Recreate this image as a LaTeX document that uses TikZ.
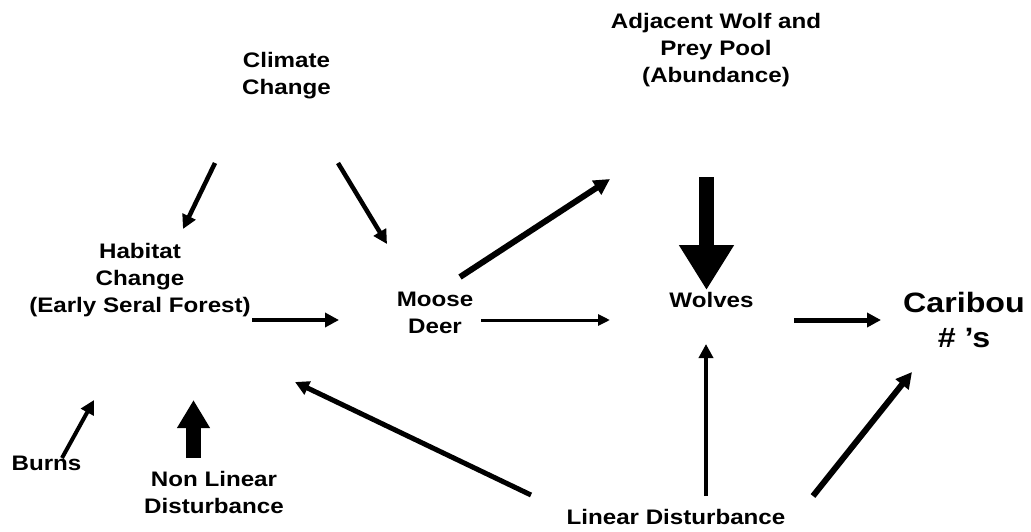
\documentclass[tikz,border=0pt]{standalone}
\usepackage{fontspec}
\setmainfont{Liberation Sans}[FakeStretch=1.15]
\usetikzlibrary{arrows.meta}
\begin{document}
\begin{tikzpicture}[x=1pt,y=-1pt,
  lab/.style={font=\bfseries\fontsize{21}{27}\selectfont,align=center,anchor=base,inner sep=0pt},
  biglab/.style={font=\bfseries\fontsize{28}{35}\selectfont,align=center,anchor=base,inner sep=0pt},
  arr/.style={line width=#1,-{Triangle[length=14pt,width=14pt]}},
  arr/.default=4.5pt,
  block/.style={line width=15pt,-{Triangle[length=#1]}}]
\useasboundingbox (0,0) rectangle (1031,531);
% labels (anchor = baseline of last line)
\node[lab] (clim) at (286.5,94) {Climate\\Change};
\node[lab] (adj) at (716,82) {Adjacent Wolf and\\Prey Pool\\(Abundance)};
\node[lab] (hab) at (140,312) {Habitat\\Change\\(Early Seral Forest)};
\node[lab] (moose) at (435,333) {Moose\\Deer};
\node[lab] (wolves) at (711.5,307) {Wolves};
\node[biglab] (cari) at (964,347) {Caribou\\\# ’s};
\node[lab] (burns) at (46.5,470) {Burns};
\node[lab] (nonlin) at (214,513) {Non Linear\\Disturbance};
\node[lab] (lin) at (676,524) {Linear Disturbance};
% connector end points
\coordinate (climA) at (215,163);
\coordinate (habA) at (183,229);
\coordinate (climB) at (338,163);
\coordinate (mooseA) at (387,244);
\coordinate (habB) at (252,320);
\coordinate (mooseB) at (339,320);
\coordinate (mooseC) at (460,277);
\coordinate (adjA) at (610,179);
\coordinate (mooseD) at (481,320);
\coordinate (wolvesA) at (610,320);
\coordinate (adjB) at (706.5,177);
\coordinate (wolvesB) at (706.5,290);
\coordinate (wolvesC) at (794,320);
\coordinate (cariA) at (881,320);
\coordinate (linA) at (813,496);
\coordinate (cariB) at (912,372);
\coordinate (linB) at (706,496);
\coordinate (wolvesD) at (706,344);
\coordinate (linC) at (531,495);
\coordinate (habC) at (295,382);
\coordinate (burnsA) at (62,458);
\coordinate (habD) at (94,400);
\coordinate (nonlinA) at (193.5,458);
\coordinate (habE) at (193.5,400);
% connectors
\draw[arr] (climA) -- (habA);
\draw[arr] (climB) -- (mooseA);
\draw[arr=4pt] (habB) -- (mooseB);
\draw[line width=6pt,-{Triangle[length=16pt,width=16pt]}] (mooseC) -- (adjA);
\draw[line width=3pt,-{Triangle[length=12pt,width=11pt]}] (mooseD) -- (wolvesA);
\draw[block={45pt,width=52pt}] (adjB) -- (wolvesB);
\draw[arr=5pt] (wolvesC) -- (cariA);
\draw[line width=6pt,-{Triangle[length=16pt,width=16pt]}] (linA) -- (cariB);
\draw[arr] (linB) -- (wolvesD);
\draw[arr=5pt] (linC) -- (habC);
\draw[arr=4pt] (burnsA) -- (habD);
\draw[block={28pt,width=31pt}] (nonlinA) -- (habE);
\end{tikzpicture}
\end{document}
